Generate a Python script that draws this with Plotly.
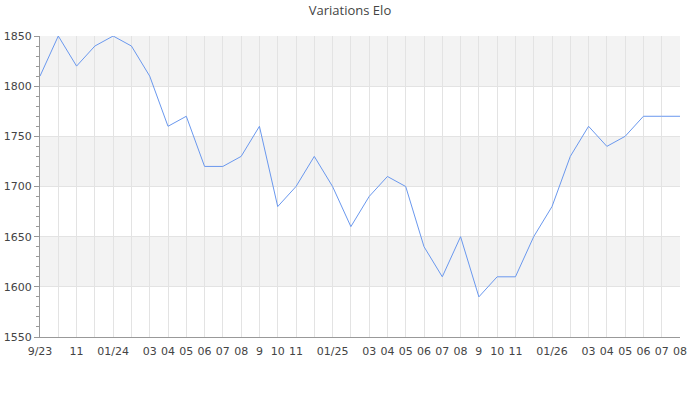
import plotly.graph_objects as go

# monthly elo, 2023-09 .. 2026-08
months = ["2023-09", "2023-10", "2023-11", "2023-12", "2024-01", "2024-02",
          "2024-03", "2024-04", "2024-05", "2024-06", "2024-07", "2024-08",
          "2024-09", "2024-10", "2024-11", "2024-12", "2025-01", "2025-02",
          "2025-03", "2025-04", "2025-05", "2025-06", "2025-07", "2025-08",
          "2025-09", "2025-10", "2025-11", "2025-12", "2026-01", "2026-02",
          "2026-03", "2026-04", "2026-05", "2026-06", "2026-07", "2026-08"]
elo = [1810, 1850, 1820, 1840, 1850, 1840, 1810, 1760, 1770, 1720, 1720, 1730,
       1760, 1680, 1700, 1730, 1700, 1660, 1690, 1710, 1700, 1640, 1610, 1650,
       1590, 1610, 1610, 1650, 1680, 1730, 1760, 1740, 1750, 1770, 1770, 1770]
tick_text = ["9/23", "", "11", "", "01/24", "", "03", "04", "05", "06", "07", "08",
             "9", "10", "11", "", "01/25", "", "03", "04", "05", "06", "07", "08",
             "9", "10", "11", "", "01/26", "", "03", "04", "05", "06", "07", "08"]
y_ticks = [1550, 1600, 1650, 1700, 1750, 1800, 1850]

fig = go.Figure()
fig.add_trace(go.Scatter(
    x=months, y=elo, mode="lines",
    line=dict(color="#6a98ee", width=1),
    hoverinfo="x+y",
))

# grey bands every other 50 pts
for lo, hi in zip(y_ticks[1::2], y_ticks[2::2]):
    fig.add_shape(type="rect", xref="paper", yref="y", x0=0, x1=1, y0=lo, y1=hi,
                  fillcolor="#f3f3f3", line_width=0, layer="below")

fig.update_layout(
    width=700, height=400,
    paper_bgcolor="white", plot_bgcolor="white",
    margin=dict(l=40, r=20, t=36, b=63, autoexpand=False),
    title=dict(text="Variations Elo", x=0.5, xanchor="center", y=0.985, yanchor="top",
               font=dict(family="Open Sans", size=13, color="#444"), automargin=False),
    font=dict(family="DejaVu Sans", size=11, color="#444"),
    showlegend=False,
)
fig.update_xaxes(
    type="category", range=[0, len(months) - 1], automargin=False,
    tickvals=months, ticktext=tick_text, ticks="",
    showgrid=True, gridcolor="#e3e3e3", gridwidth=1,
    showline=True, linecolor="#999", linewidth=1,
    tickfont=dict(size=11, color="#444"), ticklabelstandoff=4,
)
fig.update_yaxes(
    range=[1550, 1850], tickvals=y_ticks, automargin=False,
    showgrid=True, gridcolor="#e3e3e3", gridwidth=1,
    showline=True, linecolor="#999", linewidth=1,
    ticks="outside", ticklen=5, tickcolor="#999",
    minor=dict(dtick=10, ticks="outside", ticklen=3, tickcolor="#999", showgrid=False),
    zeroline=False, tickfont=dict(size=11, color="#444"),
)

# page body has a default 8px margin, drop it
fig.write_html("out.html", config={"displayModeBar": False},
               post_script="document.body.style.margin='0';")
